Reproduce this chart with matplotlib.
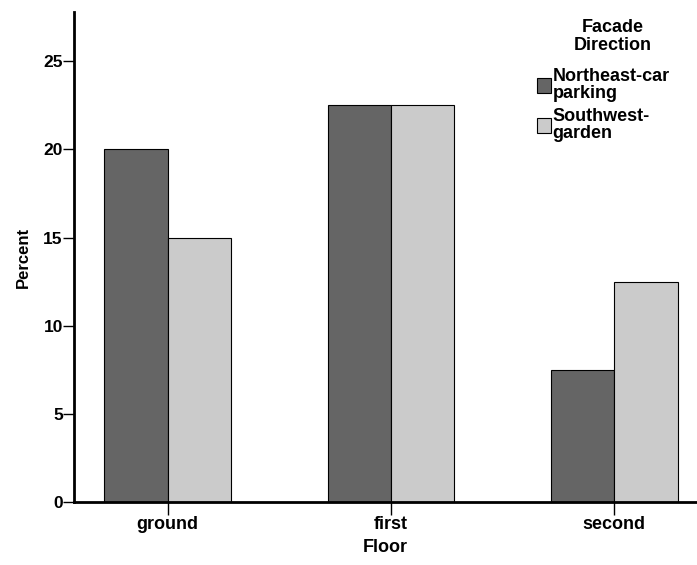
import numpy as np
import matplotlib.pyplot as plt

plt.rcParams['font.family'] = ['Liberation Sans', 'DejaVu Sans']
plt.rcParams['font.weight'] = 'bold'

floors = ['ground', 'first', 'second']
northeast = [20.0, 22.5, 7.5]
southwest = [15.0, 22.5, 12.5]
series_names = ['Northeast-car\nparking', 'Southwest-\ngarden']
legend_title = 'Facade\nDirection'

fig = plt.figure(figsize=(6.97, 5.65), dpi=100)
ax = fig.add_axes([0.106, 0.111, 0.894, 0.868])

x = np.arange(len(floors))
w = 0.283
ax.bar(x - w / 2, northeast, w, color='#656565', edgecolor='black', linewidth=0.8, label=series_names[0])
ax.bar(x + w / 2, southwest, w, color='#cbcbcb', edgecolor='black', linewidth=0.8, label=series_names[1])

ax.set_xlim(-0.42, 2.37)
ax.set_ylim(0, 27.8)
ax.set_yticks([0, 5, 10, 15, 20, 25])
ax.set_xticks(x)
ax.set_xticklabels(floors)

for s in ['top', 'right']:
    ax.spines[s].set_visible(False)
ax.spines['left'].set_linewidth(2)
ax.spines['bottom'].set_linewidth(2)
ax.tick_params(axis='y', length=8, width=1, labelsize=12.5, pad=0)
ax.tick_params(axis='x', length=9, width=1, labelsize=13, pad=1)

ax.set_xlabel('Floor', fontsize=13, fontweight='bold', labelpad=4)
ax.set_ylabel('Percent', fontsize=12, fontweight='bold', labelpad=9)

# legend title drawn separately to get the wider gap above the entries
fig.text(0.8795, 0.935, legend_title, ha='center', va='center', fontsize=13,
         fontweight='bold', linespacing=1.05)
leg = ax.legend(loc='upper left', bbox_to_anchor=(0.743, 0.886),
                frameon=False, prop={'size': 13, 'weight': 'bold'},
                handlelength=0.78, handleheight=0.85, handletextpad=0.1,
                labelspacing=0.3, borderpad=0, borderaxespad=0)
for t in leg.get_texts():
    t.set_linespacing(1.05)

fig.savefig('out.png', dpi=100)
